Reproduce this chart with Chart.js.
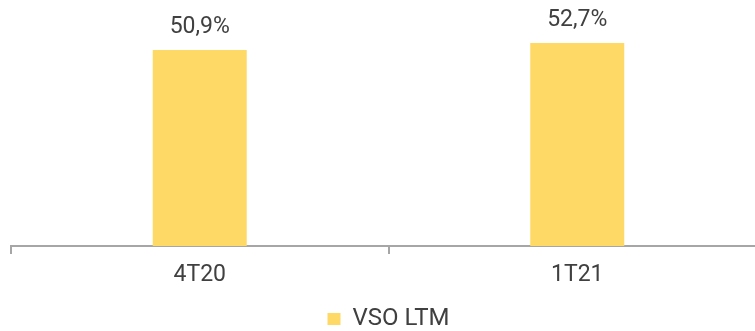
<!DOCTYPE html>
<html>
<head>
<meta charset="utf-8">
<script src="https://cdn.jsdelivr.net/npm/chart.js@4"></script>
<style>
html,body{margin:0;padding:0;background:#fff;overflow:hidden;}
#wrap{width:755px;height:331px;overflow:hidden;}
canvas{display:block;}
</style>
</head>
<body>
<div id="wrap"><canvas id="c" width="766" height="341"></canvas></div>
<script>
const categories = ["4T20", "1T21"];
const seriesName = "VSO LTM";
const vsoValues = [50.9, 52.7];
const valueLabels = ["50,9%", "52,7%"];

const textColor = "#404040";
const barColor = "#FFD966";

const labelPlugin = {
  id: "valueLabels",
  afterDatasetsDraw(chart) {
    const ctx = chart.ctx;
    const meta = chart.getDatasetMeta(0);
    ctx.save();
    ctx.fillStyle = textColor;
    ctx.font = "23px Roboto";
    ctx.textAlign = "center";
    ctx.textBaseline = "alphabetic";
    meta.data.forEach((bar, i) => {
      ctx.fillText(valueLabels[i], bar.x, bar.y - 17);
    });
    ctx.restore();
  }
};

new Chart(document.getElementById("c"), {
  type: "bar",
  data: {
    labels: categories,
    datasets: [{
      label: seriesName,
      data: vsoValues,
      backgroundColor: barColor,
      borderWidth: 0,
      categoryPercentage: 1,
      barPercentage: 0.249
    }]
  },
  options: {
    responsive: false,
    animation: false,
    layout: { padding: { left: 11, right: 0, top: 15, bottom: 0 } },
    plugins: {
      legend: {
        position: "bottom",
        labels: {
          color: textColor,
          font: { family: "Roboto", size: 24 },
          boxWidth: 13,
          boxHeight: 12,
          padding: 4
        }
      },
      tooltip: { enabled: false }
    },
    scales: {
      y: { display: false, min: 0, max: 60 },
      x: {
        offset: true,
        afterFit: (scale) => { scale.height = 57; },
        border: { display: true, color: "#A6A6A6", width: 2 },
        grid: {
          offset: true,
          drawOnChartArea: false,
          drawTicks: true,
          tickLength: 8,
          color: "#A6A6A6",
          lineWidth: 2
        },
        ticks: {
          color: textColor,
          font: { family: "Roboto", size: 23 },
          padding: 7
        }
      }
    }
  },
  plugins: [labelPlugin]
});
</script>
</body>
</html>
